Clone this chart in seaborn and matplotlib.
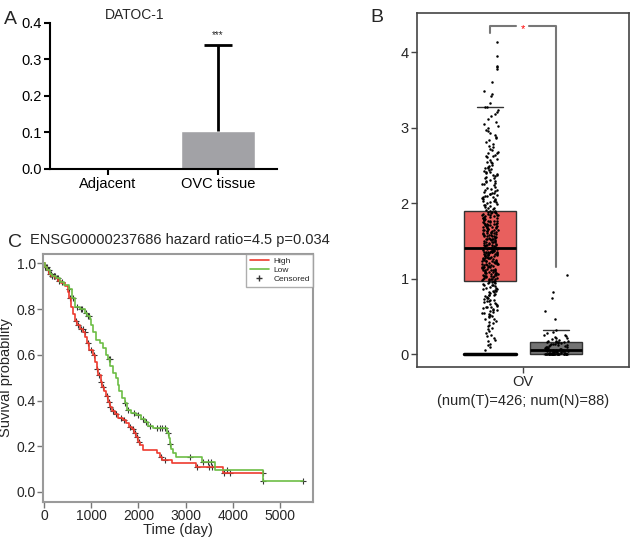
import numpy as np
import pandas as pd
import seaborn as sns
import matplotlib.pyplot as plt
from matplotlib.lines import Line2D

# ================= A: bar chart =================
bar_groups = ["Adjacent", "OVC tissue"]
bar_means = [0.003, 0.105]
bar_sd = [0.0, 0.235]

# ================= B: box + strip (log2(TPM+1)) =================
box_groups = ["Tumor", "Normal"]
box_tick_label = "OV\n(num(T)=426; num(N)=88)"

tumor_values = [
    0, 0, 0, 0, 0, 0, 0, 0, 0, 0,
    0, 0, 0, 0, 0, 0, 0, 0, 0, 0,
    0, 0, 0, 0, 0, 0, 0, 0, 0, 0,
    0.06, 0.09, 0.12, 0.14, 0.17, 0.19, 0.22, 0.24, 0.25, 0.28,
    0.31, 0.33, 0.35, 0.37, 0.38, 0.41, 0.43, 0.44, 0.46, 0.47,
    0.49, 0.50,
    0.51, 0.52, 0.53, 0.54, 0.55, 0.56, 0.57, 0.58, 0.59, 0.60,
    0.61, 0.62, 0.63, 0.63, 0.64, 0.65, 0.66, 0.67, 0.68, 0.69,
    0.70, 0.71, 0.72, 0.72, 0.73, 0.74, 0.75, 0.76, 0.77, 0.78,
    0.79, 0.79, 0.80, 0.81, 0.82, 0.83, 0.84, 0.84, 0.85, 0.86,
    0.87, 0.88, 0.88, 0.89, 0.90, 0.91, 0.91, 0.92, 0.93, 0.94,
    0.94, 0.95, 0.96, 0.96,
    0.97, 0.97, 0.98, 0.98, 0.99, 0.99, 1.00, 1.00, 1.00, 1.01,
    1.01, 1.02, 1.02, 1.03, 1.03, 1.03, 1.04, 1.04, 1.05, 1.05,
    1.06, 1.06, 1.06, 1.07, 1.07, 1.08, 1.08, 1.09, 1.09, 1.09,
    1.10, 1.10, 1.11, 1.11, 1.12, 1.12, 1.12, 1.13, 1.13, 1.14,
    1.14, 1.15, 1.15, 1.15, 1.16, 1.16, 1.17, 1.17, 1.18, 1.18,
    1.18, 1.19, 1.19, 1.20, 1.20, 1.21, 1.21, 1.21, 1.22, 1.22,
    1.23, 1.23, 1.24, 1.24, 1.24, 1.25, 1.25, 1.26, 1.26, 1.27,
    1.27, 1.27, 1.28, 1.28, 1.29, 1.29, 1.30, 1.30, 1.30, 1.31,
    1.31, 1.32, 1.32, 1.33, 1.33, 1.33, 1.34, 1.34, 1.35, 1.35,
    1.36, 1.36, 1.36, 1.37, 1.37, 1.38, 1.38, 1.39, 1.39, 1.39,
    1.38, 1.37, 1.36, 1.35, 1.34, 1.33,
    1.40, 1.40, 1.41, 1.41, 1.42, 1.42, 1.43, 1.43, 1.44, 1.44,
    1.45, 1.45, 1.46, 1.46, 1.47, 1.47, 1.48, 1.48, 1.49, 1.49,
    1.50, 1.50, 1.51, 1.51, 1.52, 1.52, 1.53, 1.53, 1.54, 1.54,
    1.55, 1.55, 1.56, 1.56, 1.57, 1.57, 1.58, 1.58, 1.59, 1.59,
    1.60, 1.60, 1.61, 1.61, 1.62, 1.62, 1.63, 1.63, 1.64, 1.64,
    1.65, 1.65, 1.66, 1.66, 1.67, 1.67, 1.68, 1.68, 1.69, 1.69,
    1.70, 1.70, 1.71, 1.71, 1.72, 1.72, 1.73, 1.73, 1.74, 1.74,
    1.75, 1.75, 1.76, 1.76, 1.77, 1.77, 1.78, 1.78, 1.79, 1.79,
    1.80, 1.80, 1.81, 1.81, 1.82, 1.82, 1.83, 1.83, 1.84, 1.84,
    1.85, 1.85, 1.86, 1.86, 1.87, 1.87, 1.88, 1.88, 1.89, 1.89,
    1.41, 1.45, 1.52, 1.58, 1.63, 1.71,
    1.90, 1.90, 1.91, 1.92, 1.93, 1.94, 1.95, 1.96, 1.97, 1.98,
    1.99, 2.00, 2.01, 2.02, 2.03, 2.04, 2.05, 2.06, 2.07, 2.08,
    2.09, 2.10, 2.11, 2.12, 2.13, 2.14, 2.15, 2.16, 2.17, 2.18,
    2.19, 2.20, 2.03, 2.08, 2.12,
    2.22, 2.24, 2.25, 2.27, 2.28, 2.30, 2.31, 2.33, 2.34, 2.36,
    2.37, 2.39, 2.40, 2.42, 2.43, 2.45, 2.46, 2.48, 2.49, 2.35,
    2.26, 2.41, 2.29, 2.44, 2.38, 2.47,
    2.51, 2.53, 2.55, 2.57, 2.59, 2.61, 2.63, 2.64, 2.66, 2.68,
    2.70, 2.72, 2.74, 2.76, 2.78, 2.62, 2.67, 2.55,
    2.81, 2.84, 2.87, 2.90, 2.93, 2.96, 2.99, 3.02, 3.05, 3.08,
    2.88, 2.97,
    3.12, 3.15, 3.18, 3.21, 3.24, 3.27, 3.28,
    3.33, 3.42, 3.45, 3.49, 3.61, 3.78, 3.81, 3.82, 3.95, 4.14,
]

normal_values = [
    0, 0, 0, 0, 0, 0, 0, 0, 0, 0, 0, 0,
    0, 0, 0, 0, 0, 0, 0, 0, 0, 0, 0, 0,
    0.005, 0.01, 0.01, 0.015, 0.02, 0.02, 0.025, 0.03, 0.03, 0.03,
    0.035, 0.04, 0.04, 0.04, 0.045, 0.045, 0.05, 0.05, 0.05, 0.05,
    0.05, 0.055, 0.06, 0.065, 0.07, 0.075, 0.08, 0.085, 0.09, 0.095,
    0.10, 0.105, 0.11, 0.115, 0.12, 0.125, 0.13, 0.135, 0.14, 0.145,
    0.15, 0.155,
    0.155, 0.16, 0.165, 0.17, 0.175, 0.18, 0.19, 0.20, 0.21, 0.22,
    0.23, 0.24, 0.25, 0.26, 0.28, 0.30, 0.32,
    0.46, 0.57, 0.75, 0.83, 1.05,
]

# ================= C: Kaplan-Meier =================
high_time = [0, 30, 70, 110, 160, 230, 300, 370, 440, 500,
             530, 580, 620, 660, 700, 760, 830, 880, 910, 960,
             1040, 1090, 1120, 1150, 1200, 1240, 1270, 1310, 1350, 1390,
             1440, 1500, 1560, 1680, 1730, 1800, 1860, 1910, 1960, 1990,
             2030, 2100, 2400, 2460, 2510, 2710, 3230, 3800, 4650]
high_surv = [1.0, 0.985, 0.97, 0.955, 0.945, 0.935, 0.925, 0.915, 0.90, 0.875,
             0.85, 0.81, 0.78, 0.75, 0.73, 0.715, 0.70, 0.68, 0.65, 0.62,
             0.60, 0.57, 0.54, 0.51, 0.48, 0.46, 0.44, 0.42, 0.395, 0.37,
             0.355, 0.34, 0.325, 0.315, 0.30, 0.285, 0.275, 0.26, 0.24, 0.22,
             0.205, 0.185, 0.17, 0.155, 0.14, 0.127, 0.11, 0.083, 0.083]
low_time = [0, 30, 70, 120, 180, 260, 350, 420, 530, 600,
            650, 760, 860, 910, 970, 1000, 1040, 1110, 1180, 1250,
            1310, 1360, 1400, 1460, 1530, 1570, 1600, 1660, 1710, 1750,
            1850, 1960, 2060, 2135, 2210, 2310, 2600, 2640, 2670, 2700,
            2730, 2800, 3350, 3630, 4640, 5490]
low_surv = [1.0, 0.985, 0.97, 0.955, 0.945, 0.935, 0.92, 0.905, 0.89, 0.85,
            0.81, 0.80, 0.785, 0.77, 0.755, 0.73, 0.70, 0.665, 0.65, 0.63,
            0.60, 0.58, 0.55, 0.52, 0.50, 0.47, 0.44, 0.41, 0.39, 0.36,
            0.345, 0.335, 0.32, 0.305, 0.29, 0.28, 0.26, 0.235, 0.21, 0.19,
            0.17, 0.151, 0.131, 0.098, 0.048, 0.048]
high_censor = [40, 80, 130, 180, 220, 270, 330, 560, 680, 720, 780, 820, 870, 930,
               1000, 1060, 1130, 1160, 1210, 1250, 1330, 1370, 1410, 1460, 1530,
               1640, 1700, 1820, 1880, 1920, 1970, 2010, 2480, 2560, 3240, 3500,
               3560, 3820, 3950, 4650]
low_censor = [30, 60, 100, 150, 210, 240, 290, 380, 540, 620, 700, 780, 800, 900,
              930, 960, 1370, 1390, 1720, 1780, 1900, 2000, 2090, 2170, 2250, 2400,
              2460, 2500, 2560, 2620, 2680, 3100, 3380, 3470, 3530, 3880, 4650, 5490]
km_title = "ENSG00000237686 hazard ratio=4.5 p=0.034"

red = "#ee3b2f"
green = "#6dbe45"

sns.set_style("ticks")
plt.rcParams['font.family'] = ['Liberation Sans', 'DejaVu Sans']
np.random.seed(7)  # jitter only

fig = plt.figure(figsize=(6.32, 5.39), dpi=100)

# ---------- A ----------
axA = fig.add_axes([0.0791, 0.6865, 0.359, 0.2709])
sns.barplot(x=bar_groups, y=bar_means, color="#a2a2a6", saturation=1,
            width=0.67, errorbar=None, ax=axA)
idx = [i for i, s in enumerate(bar_sd) if s > 0]
eb = axA.errorbar(x=idx, y=[bar_means[i] for i in idx],
                  yerr=[[0] * len(idx), [bar_sd[i] for i in idx]],
                  fmt='none', ecolor='black', elinewidth=2, capsize=10, capthick=2)
eb[1][0].set_visible(False)  # no cap at the bar top (one-sided bar)
for i in idx:
    axA.text(i, bar_means[i] + bar_sd[i] + 0.028, "***", ha='center', va='center', fontsize=7)
axA.set_xlim(-0.527, 1.536)
axA.set_ylim(0, 0.4)
axA.set_yticks([0, 0.1, 0.2, 0.3, 0.4])
axA.set_yticklabels(["0.0", "0.1", "0.2", "0.3", "0.4"])
sns.despine(ax=axA)
for s in ["left", "bottom"]:
    axA.spines[s].set_linewidth(1.5)
    axA.spines[s].set_color("black")
axA.tick_params(length=4, width=1.5, labelsize=10.5, colors="black", pad=2)

# ---------- B ----------
df_b = pd.DataFrame({
    "group": ["Tumor"] * len(tumor_values) + ["Normal"] * len(normal_values),
    "value": tumor_values + normal_values,
})
axB = fig.add_axes([0.6598, 0.3191, 0.3354, 0.6568])
sns.boxplot(data=df_b, x="group", y="value", hue="group", order=box_groups,
            hue_order=box_groups, palette=["#e8605e", "#737373"], saturation=1,
            width=0.8, showfliers=False, linecolor="#333333", linewidth=1,
            legend=False, whiskerprops={"linewidth": 0},
            capprops={"color": "#333333", "linewidth": 1},
            medianprops={"color": "black", "linewidth": 2}, ax=axB)
sns.stripplot(x=["Tumor"] * len(tumor_values), y=tumor_values, order=box_groups,
              jitter=0.12, size=1.8, color="black", ax=axB)
sns.stripplot(x=["Normal"] * len(normal_values), y=normal_values, order=box_groups,
              jitter=0.18, size=1.8, color="black", ax=axB)
axB.plot([-0.4, 0.4], [min(tumor_values)] * 2, color="black", lw=2.5, zorder=5)
# significance bracket
axB.plot([0, 0, 0.40], [4.25, 4.35, 4.35], color="#777777", lw=1.5)
axB.plot([0.59, 1, 1], [4.35, 4.35, 1.15], color="#777777", lw=1.5)
axB.text(0.5, 4.31, "*", color="red", ha="center", va="center", fontsize=8)
axB.set_xlim(-1.106, 2.106)
axB.set_ylim(-0.17, 4.52)
axB.set_yticks([0, 1, 2, 3, 4])
axB.set_xticks([0.5])
axB.set_xticklabels([box_tick_label], linespacing=1.4)
axB.set_xlabel("")
axB.set_ylabel("")
for s in axB.spines.values():
    s.set_visible(True)
    s.set_color("#444444")
    s.set_linewidth(1.2)
axB.tick_params(length=4, width=1, color="#444444", labelsize=10.5, pad=2)

# ---------- C ----------
axC = fig.add_axes([0.068, 0.0686, 0.4272, 0.4601])
sns.lineplot(x=high_time, y=high_surv, drawstyle="steps-post", color=red,
             lw=1.2, estimator=None, sort=False, ax=axC)
sns.lineplot(x=low_time, y=low_surv, drawstyle="steps-post", color=green,
             lw=1.2, estimator=None, sort=False, ax=axC)


def step_at(times, surv, pts):
    pos = np.searchsorted(times, pts, side="right") - 1
    return [surv[p] for p in pos]


sns.scatterplot(x=high_censor, y=step_at(high_time, high_surv, high_censor),
                marker="+", s=22, color="#333333", linewidth=0.8, ax=axC)
sns.scatterplot(x=low_censor, y=step_at(low_time, low_surv, low_censor),
                marker="+", s=22, color="#333333", linewidth=0.8, ax=axC)
axC.set_xlim(-20, 5700)
axC.set_ylim(-0.044, 1.041)
axC.set_xticks([0, 1000, 2000, 3000, 4000, 5000])
axC.set_yticks([0, 0.2, 0.4, 0.6, 0.8, 1.0])
axC.set_yticklabels(["0.0", "0.2", "0.4", "0.6", "0.8", "1.0"])
axC.set_xlabel("Time (day)", fontsize=10.5, labelpad=0)
axC.set_ylabel("Suvival probability", fontsize=10.5)
axC.yaxis.set_label_coords(-0.11, 0.5)
for s in axC.spines.values():
    s.set_visible(True)
    s.set_color("#9a9a9a")
    s.set_linewidth(1.5)
axC.tick_params(length=4, width=1, color="#777777", labelsize=10, pad=1)
handles = [Line2D([], [], color=red, lw=1.2),
           Line2D([], [], color=green, lw=1.2),
           Line2D([], [], color="#333333", marker="+", ls="none", ms=4)]
leg = axC.legend(handles, ["High", "Low", "Censored"], loc="upper right",
                 fontsize=6, frameon=True, fancybox=False, borderaxespad=0,
                 handlelength=2.3, labelspacing=0.15, borderpad=0.4,
                 handletextpad=0.5)
leg.get_frame().set_edgecolor("#9a9a9a")
leg.get_frame().set_linewidth(1)

# ---------- panel labels and titles ----------
fig.text(10 / 632, 1 - 20 / 539, "A", fontsize=14, ha="center", va="center")
fig.text(377 / 632, 1 - 18 / 539, "B", fontsize=14, ha="center", va="center")
fig.text(15 / 632, 1 - 242 / 539, "C", fontsize=14, ha="center", va="center")
fig.text(135 / 632, 1 - 15 / 539, "DATOC-1", fontsize=10, ha="center", va="center")
fig.text(30 / 632, 1 - 240 / 539, km_title, fontsize=10.5, ha="left", va="center")

fig.savefig("out.png", dpi=100)
